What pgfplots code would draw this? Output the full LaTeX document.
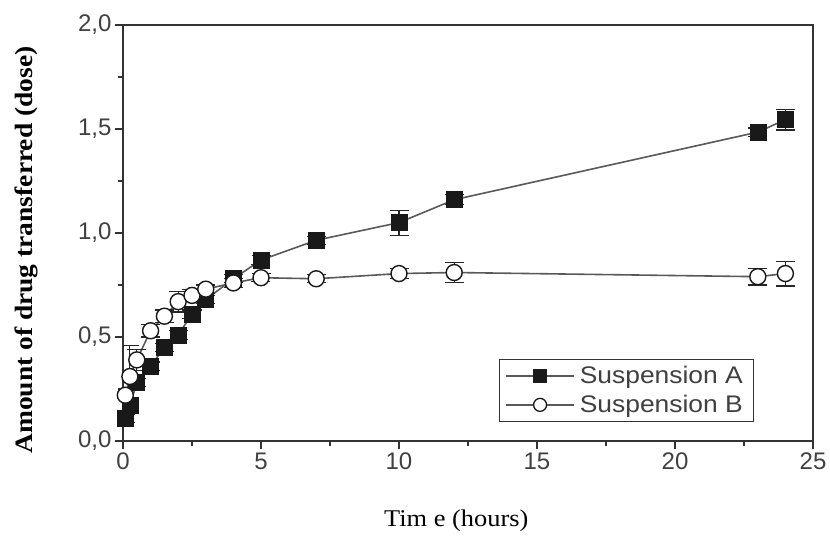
\documentclass[border=0pt]{standalone}
\usepackage{pgfplots}
\pgfplotsset{compat=1.18}
\usepackage{fontspec}
\setmainfont{Liberation Sans}
\newfontfamily\seriffont{Liberation Serif}
\begin{document}
\begin{tikzpicture}
\begin{axis}[
  name=ax,
  scale only axis,
  width=690pt, height=416pt,
  xmin=0, xmax=25, ymin=0, ymax=2,
  xtick={0,5,10,15,20,25},
  ytick={0,0.5,1,1.5,2},
  minor x tick num=1, minor y tick num=1,
  tick align=outside,
  xtick pos=bottom, ytick pos=left,
  major tick length=8pt, minor tick length=5pt,
  every tick/.style={black!80, line width=1.1pt},
  axis line style={black!80, line width=1.1pt},
  /pgf/number format/assume math mode=true,
  yticklabel style={/pgf/number format/.cd, fixed, fixed zerofill, precision=1, use comma},
  ticklabel style={font=\fontsize{24}{26}\selectfont, text=black!75},
  xlabel={\seriffont\scalebox{1.1}[1]{Tim e (hours)}},
  ylabel={\seriffont\bfseries\scalebox{1.1}[1]{Amount of drug transferred (dose)}},
  xlabel style={font=\fontsize{24}{26}\selectfont, at={(axis description cs:0.483,-0.192)}, anchor=center},
  ylabel style={font=\fontsize{25}{27}\selectfont, at={(axis description cs:-0.1406,0.459)}, anchor=center},
  legend style={at={(0.915,0.046)}, anchor=south east, draw=black!80, line width=1.1pt,
    font=\fontsize{24}{26}\selectfont, text=black!75, row sep=6pt, inner xsep=6pt, inner ysep=5pt,
    nodes={inner xsep=5pt}},
  legend cell align=left,
]
\addplot[black!65, line width=1.6pt, mark=square*, mark size=8pt,
  mark options={fill=black!90, draw=black!90, line width=0.6pt},
  legend image code/.code={\draw[black!65, line width=1.6pt] (0pt,0pt) -- (68pt,0pt);
     \draw[fill=black!90, draw=black!90] (28pt,-6pt) rectangle (40pt,6pt);},
  error bars/.cd, y dir=both, y explicit,
  error bar style={black!85, line width=1.1pt},
  error mark options={rotate=90, mark size=9.5pt, line width=1.1pt}]
coordinates {
(0.083,0.11) +- (0,0.02)
(0.25,0.17) +- (0,0.03)
(0.5,0.28) +- (0,0.02)
(1,0.36) +- (0,0.02)
(1.5,0.45) +- (0,0.02)
(2,0.51) +- (0,0.02)
(2.5,0.61) +- (0,0.02)
(3,0.68) +- (0,0.02)
(4,0.78) +- (0,0.02)
(5,0.87) +- (0,0.02)
(7,0.965) +- (0,0.02)
(10,1.05) +- (0,0.06)
(12,1.16) +- (0,0.025)
(23,1.485) +- (0,0.02)
(24,1.545) +- (0,0.05)
};
\addlegendentry{\scalebox{1.1}[1]{Suspension A}}
\addplot[black!65, line width=1.6pt, mark=*, mark size=8pt,
  mark options={fill=white, draw=black!90, line width=1.4pt},
  legend image code/.code={\draw[black!65, line width=1.6pt] (0pt,0pt) -- (68pt,0pt);
     \draw[fill=white, draw=black!90, line width=1.3pt] (34pt,0pt) circle (6.5pt);},
  error bars/.cd, y dir=both, y explicit,
  error bar style={black!85, line width=1.1pt},
  error mark options={rotate=90, mark size=9.5pt, line width=1.1pt}]
coordinates {
(0.083,0.22) +- (0,0.03)
(0.25,0.31) +- (0,0.15)
(0.5,0.39) +- (0,0.05)
(1,0.53) +- (0,0.03)
(1.5,0.60) +- (0,0.03)
(2,0.67) +- (0,0.05)
(2.5,0.70) +- (0,0.03)
(3,0.73) +- (0,0.02)
(4,0.76) +- (0,0.02)
(5,0.785) +- (0,0.02)
(7,0.78) +- (0,0.02)
(10,0.805) +- (0,0.025)
(12,0.81) +- (0,0.05)
(23,0.79) +- (0,0.04)
(24,0.805) +- (0,0.06)
};
\addlegendentry{\scalebox{1.1}[1]{Suspension B}}
\end{axis}
\path ([xshift=-123pt,yshift=-97pt]ax.south west) rectangle ([xshift=17pt,yshift=25pt]ax.north east);
\end{tikzpicture}
\end{document}
